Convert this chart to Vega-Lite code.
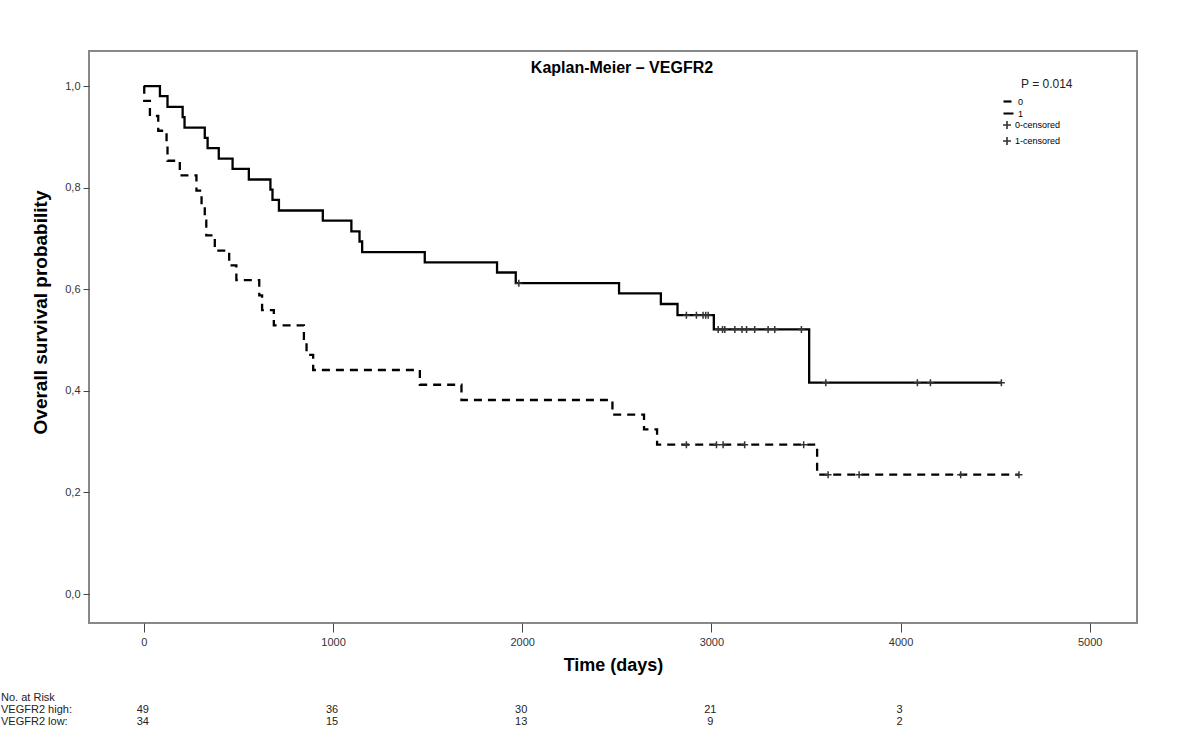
{
  "$schema": "https://vega.github.io/schema/vega-lite/v6.json",
  "autosize": {"type": "none"},
  "width": 1048,
  "height": 572,
  "padding": {"left": 89, "top": 51, "right": 46, "bottom": 122},
  "background": "white",
  "title": {"text": "Kaplan-Meier – VEGFR2", "offset": -25, "dx": 9, "fontSize": 16, "fontWeight": "bold", "font": "Liberation Sans", "color": "black"},
  "datasets": {
    "km": [
      {"group": "1", "time": 0, "surv": 1.0},
      {"group": "1", "time": 85, "surv": 0.980},
      {"group": "1", "time": 125, "surv": 0.959},
      {"group": "1", "time": 205, "surv": 0.939},
      {"group": "1", "time": 215, "surv": 0.918},
      {"group": "1", "time": 322, "surv": 0.898},
      {"group": "1", "time": 337, "surv": 0.878},
      {"group": "1", "time": 396, "surv": 0.857},
      {"group": "1", "time": 469, "surv": 0.837},
      {"group": "1", "time": 555, "surv": 0.816},
      {"group": "1", "time": 669, "surv": 0.796},
      {"group": "1", "time": 680, "surv": 0.776},
      {"group": "1", "time": 714, "surv": 0.755},
      {"group": "1", "time": 946, "surv": 0.735},
      {"group": "1", "time": 1097, "surv": 0.714},
      {"group": "1", "time": 1140, "surv": 0.694},
      {"group": "1", "time": 1154, "surv": 0.673},
      {"group": "1", "time": 1485, "surv": 0.653},
      {"group": "1", "time": 1867, "surv": 0.633},
      {"group": "1", "time": 1966, "surv": 0.612},
      {"group": "1", "time": 2512, "surv": 0.592},
      {"group": "1", "time": 2733, "surv": 0.571},
      {"group": "1", "time": 2821, "surv": 0.549},
      {"group": "1", "time": 3013, "surv": 0.521},
      {"group": "1", "time": 3517, "surv": 0.416},
      {"group": "1", "time": 4533, "surv": 0.416},
      {"group": "0", "time": 0, "surv": 1.0},
      {"group": "0", "time": 2, "surv": 0.971},
      {"group": "0", "time": 32, "surv": 0.941},
      {"group": "0", "time": 76, "surv": 0.912},
      {"group": "0", "time": 120, "surv": 0.882},
      {"group": "0", "time": 125, "surv": 0.853},
      {"group": "0", "time": 190, "surv": 0.824},
      {"group": "0", "time": 278, "surv": 0.794},
      {"group": "0", "time": 305, "surv": 0.765},
      {"group": "0", "time": 322, "surv": 0.735},
      {"group": "0", "time": 330, "surv": 0.706},
      {"group": "0", "time": 375, "surv": 0.676},
      {"group": "0", "time": 451, "surv": 0.647},
      {"group": "0", "time": 489, "surv": 0.618},
      {"group": "0", "time": 610, "surv": 0.588},
      {"group": "0", "time": 625, "surv": 0.559},
      {"group": "0", "time": 687, "surv": 0.529},
      {"group": "0", "time": 846, "surv": 0.500},
      {"group": "0", "time": 860, "surv": 0.471},
      {"group": "0", "time": 895, "surv": 0.441},
      {"group": "0", "time": 1459, "surv": 0.412},
      {"group": "0", "time": 1679, "surv": 0.382},
      {"group": "0", "time": 2477, "surv": 0.353},
      {"group": "0", "time": 2644, "surv": 0.324},
      {"group": "0", "time": 2713, "surv": 0.294},
      {"group": "0", "time": 3559, "surv": 0.235},
      {"group": "0", "time": 4626, "surv": 0.235}
    ],
    "cens": [
      {"clabel": "1-censored", "time": 1982, "surv": 0.612},
      {"clabel": "1-censored", "time": 2868, "surv": 0.549},
      {"clabel": "1-censored", "time": 2921, "surv": 0.549},
      {"clabel": "1-censored", "time": 2956, "surv": 0.549},
      {"clabel": "1-censored", "time": 2970, "surv": 0.549},
      {"clabel": "1-censored", "time": 2983, "surv": 0.549},
      {"clabel": "1-censored", "time": 3036, "surv": 0.521},
      {"clabel": "1-censored", "time": 3059, "surv": 0.521},
      {"clabel": "1-censored", "time": 3071, "surv": 0.521},
      {"clabel": "1-censored", "time": 3124, "surv": 0.521},
      {"clabel": "1-censored", "time": 3162, "surv": 0.521},
      {"clabel": "1-censored", "time": 3186, "surv": 0.521},
      {"clabel": "1-censored", "time": 3229, "surv": 0.521},
      {"clabel": "1-censored", "time": 3300, "surv": 0.521},
      {"clabel": "1-censored", "time": 3335, "surv": 0.521},
      {"clabel": "1-censored", "time": 3476, "surv": 0.521},
      {"clabel": "1-censored", "time": 3605, "surv": 0.416},
      {"clabel": "1-censored", "time": 4089, "surv": 0.416},
      {"clabel": "1-censored", "time": 4158, "surv": 0.416},
      {"clabel": "1-censored", "time": 4533, "surv": 0.416},
      {"clabel": "0-censored", "time": 2868, "surv": 0.294},
      {"clabel": "0-censored", "time": 3027, "surv": 0.294},
      {"clabel": "0-censored", "time": 3062, "surv": 0.294},
      {"clabel": "0-censored", "time": 3176, "surv": 0.294},
      {"clabel": "0-censored", "time": 3488, "surv": 0.294},
      {"clabel": "0-censored", "time": 3617, "surv": 0.235},
      {"clabel": "0-censored", "time": 3781, "surv": 0.235},
      {"clabel": "0-censored", "time": 4318, "surv": 0.235},
      {"clabel": "0-censored", "time": 4626, "surv": 0.235}
    ],
    "risk": [
      {"group": "high", "time": 0, "n": 49},
      {"group": "high", "time": 1000, "n": 36},
      {"group": "high", "time": 2000, "n": 30},
      {"group": "high", "time": 3000, "n": 21},
      {"group": "high", "time": 4000, "n": 3},
      {"group": "low", "time": 0, "n": 34},
      {"group": "low", "time": 1000, "n": 15},
      {"group": "low", "time": 2000, "n": 13},
      {"group": "low", "time": 3000, "n": 9},
      {"group": "low", "time": 4000, "n": 2}
    ],
    "one": [{"k": 1}]
  },
  "layer": [
    {
      "data": {"name": "km"},
      "mark": {"type": "line", "interpolate": "step-after", "color": "black", "strokeWidth": 2.3},
      "encoding": {
        "x": {
          "field": "time", "type": "quantitative",
          "scale": {"domain": [-290, 5250], "nice": false, "zero": false},
          "axis": {
            "values": [0, 1000, 2000, 3000, 4000, 5000],
            "format": "d",
            "title": "Time (days)",
            "grid": false, "domain": false,
            "tickSize": 9, "tickColor": "#444", "tickWidth": 1,
            "labelPadding": 4, "labelFont": "Liberation Sans", "labelFontSize": 11, "labelColor": "#333",
            "titleFont": "Liberation Sans", "titleFontSize": 18, "titleFontWeight": "bold", "titleColor": "black", "titlePadding": 9
          }
        },
        "y": {
          "field": "surv", "type": "quantitative",
          "scale": {"domain": [-0.057, 1.069], "nice": false, "zero": false},
          "axis": {
            "values": [0, 0.2, 0.4, 0.6, 0.8, 1.0],
            "labelExpr": "replace(format(datum.value, '.1f'), '.', ',')",
            "title": "Overall survival probability",
            "grid": false, "domain": false,
            "tickSize": 6, "tickColor": "#444", "tickWidth": 1,
            "labelPadding": 3, "labelFont": "Liberation Sans", "labelFontSize": 11, "labelColor": "#333",
            "titleFont": "Liberation Sans", "titleFontSize": 19, "titleFontWeight": "bold", "titleColor": "black", "titlePadding": 14, "titleY": 261
          }
        },
        "strokeDash": {
          "field": "group", "type": "nominal",
          "scale": {"domain": ["0", "1"], "range": [[8, 6], [1, 0]]},
          "legend": {
            "title": null, "orient": "none", "legendX": 913, "legendY": 44,
            "symbolType": "stroke", "symbolSize": 100, "symbolStrokeWidth": 2.2, "symbolStrokeColor": "black",
            "labelFont": "Liberation Sans", "labelFontSize": 9, "labelColor": "black", "labelOffset": 3, "rowPadding": 0
          }
        }
      }
    },
    {
      "data": {"name": "cens"},
      "mark": {"type": "point", "filled": false, "stroke": "#333", "strokeWidth": 1.5, "size": 49, "opacity": 1},
      "encoding": {
        "x": {"field": "time", "type": "quantitative"},
        "y": {"field": "surv", "type": "quantitative"},
        "shape": {
          "field": "clabel", "type": "nominal",
          "scale": {"domain": ["0-censored", "1-censored"], "range": ["M-1,0H1M0,-1V1", "M-1,0H1M0,-1V1"]},
          "legend": {
            "title": null, "orient": "none", "legendX": 913, "legendY": 69,
            "symbolSize": 64, "symbolStrokeWidth": 1.6, "symbolStrokeColor": "#333", "symbolFillColor": "transparent",
            "labelFont": "Liberation Sans", "labelFontSize": 9, "labelColor": "black", "labelOffset": 3, "rowPadding": 0
          }
        }
      }
    },
    {
      "data": {"name": "one"},
      "mark": {"type": "text", "text": "P = 0.014", "font": "Liberation Sans", "fontSize": 12, "color": "#222", "align": "center", "baseline": "middle"},
      "encoding": {"x": {"datum": 4773}, "y": {"datum": 1.004}}
    },
    {
      "data": {"name": "one"},
      "mark": {"type": "text", "text": "No. at Risk", "font": "Liberation Sans", "fontSize": 11, "color": "#222", "align": "left", "baseline": "middle"},
      "encoding": {"x": {"datum": -755}, "y": {"datum": -0.205}}
    },
    {
      "data": {"name": "one"},
      "mark": {"type": "text", "text": "VEGFR2 high:", "font": "Liberation Sans", "fontSize": 11, "color": "#222", "align": "left", "baseline": "middle"},
      "encoding": {"x": {"datum": -755}, "y": {"datum": -0.2285}}
    },
    {
      "data": {"name": "one"},
      "mark": {"type": "text", "text": "VEGFR2 low:", "font": "Liberation Sans", "fontSize": 11, "color": "#222", "align": "left", "baseline": "middle"},
      "encoding": {"x": {"datum": -755}, "y": {"datum": -0.252}}
    },
    {
      "data": {"name": "risk"},
      "transform": [{"filter": "datum.group === 'high'"}],
      "mark": {"type": "text", "font": "Liberation Sans", "fontSize": 11, "color": "#222", "align": "center", "baseline": "middle", "dx": -1},
      "encoding": {"x": {"field": "time", "type": "quantitative"}, "y": {"datum": -0.2285}, "text": {"field": "n", "type": "nominal"}}
    },
    {
      "data": {"name": "risk"},
      "transform": [{"filter": "datum.group === 'low'"}],
      "mark": {"type": "text", "font": "Liberation Sans", "fontSize": 11, "color": "#222", "align": "center", "baseline": "middle", "dx": -1},
      "encoding": {"x": {"field": "time", "type": "quantitative"}, "y": {"datum": -0.252}, "text": {"field": "n", "type": "nominal"}}
    }
  ],
  "config": {
    "view": {"stroke": "#888", "strokeWidth": 2},
    "font": "Liberation Sans"
  }
}
